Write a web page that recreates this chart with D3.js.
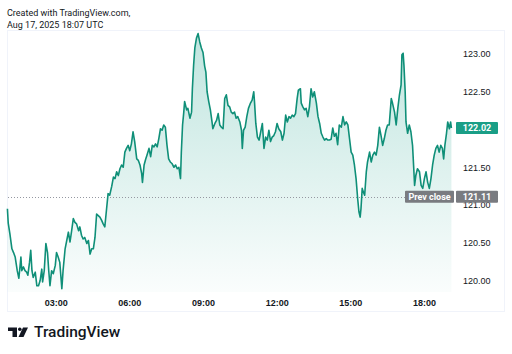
<!DOCTYPE html>
<html>
<head>
<meta charset="utf-8">
<script src="https://cdn.jsdelivr.net/npm/d3@7"></script>
<style>
  body { margin: 0; background: #fff; }
  svg { display: block; font-family: Roboto, "Liberation Sans", sans-serif; }
  .axis text { fill: #131722; }
</style>
</head>
<body>
<div class="chart"></div>
<script>
// minutes after midnight (chart time)
const minutes = [
  62,64,68,73,77,81,86,90,95,97,
  101,105,109,112,116,119,122,125,130,134,
  138,142,146,148,152,156,160,163,166,170,
  174,179,182,186,190,195,198,203,207,211,
  215,219,223,227,231,236,239,243,247,251,
  256,260,264,268,272,276,280,284,288,292,
  296,300,304,308,312,317,321,325,329,333,
  337,341,345,349,353,357,361,365,369,373,
  378,382,386,390,392,396,400,403,408,412,
  416,420,424,428,432,436,440,444,448,452,
  456,460,464,469,473,477,481,485,487,490,
  493,495,500,503,508,512,514,517,520,524,
  528,532,536,540,544,547,550,554,558,562,
  564,569,573,577,581,585,589,593,597,601,
  605,609,613,617,621,625,630,634,636,639,
  643,647,651,656,660,664,666,669,673,677,
  681,685,689,693,697,701,705,709,713,717,
  721,725,730,734,738,742,746,750,754,758,
  762,766,770,773,778,780,784,788,792,796,
  800,804,808,812,817,821,825,829,833,837,
  841,845,849,853,857,861,865,869,873,878,
  882,886,890,894,898,902,906,910,914,918,
  921,924,926,929,932,935,939,942,947,951,
  955,959,963,967,971,975,979,983,987,991,
  995,1000,1003,1008,1012,1016,1020,1024,1026,1029,
  1031,1034,1036,1040,1044,1048,1052,1055,1057,1060,
  1064,1069,1073,1077,1081,1085,1089,1093,1097,1101,
  1105,1109,1113,1117,1121,1125,1128,1131,1135,1138,
  1142,1145,1147
];
const prices = [
  120.95,120.76,120.62,120.42,120.37,120.31,120.13,120.03,120.31,120.13,
  120.18,120.13,120.11,120.07,120.24,120.40,120.13,120.04,120.11,119.93,
  119.93,120.00,120.15,119.98,120.13,120.49,120.37,120.13,119.93,120.13,
  120.09,120.20,120.37,120.31,120.24,119.89,120.13,120.42,120.53,120.64,
  120.51,120.66,120.82,120.77,120.75,120.66,120.71,120.60,120.55,120.57,
  120.49,120.53,120.35,120.42,120.42,120.57,120.88,120.86,120.84,120.80,
  120.75,120.71,120.93,121.15,121.13,121.25,121.37,121.35,121.44,121.39,
  121.48,121.53,121.50,121.70,121.75,121.79,121.72,121.81,121.97,121.84,
  121.61,121.59,121.53,121.42,121.30,121.53,121.61,121.66,121.75,121.64,
  121.79,121.77,121.81,121.77,121.88,122.01,121.99,122.06,122.03,121.79,
  121.61,121.57,121.55,121.50,121.53,121.48,121.50,121.35,121.70,122.06,
  122.23,122.37,122.26,122.28,122.15,122.23,122.54,122.85,123.08,123.21,
  123.27,123.16,123.08,123.02,122.84,122.76,122.50,122.37,122.26,122.10,
  122.01,122.08,122.12,122.21,122.06,122.03,122.01,122.41,122.46,122.32,
  122.30,122.23,122.21,122.23,122.15,122.17,122.10,121.99,121.75,121.99,
  122.03,122.17,122.28,122.35,122.39,122.50,122.35,122.08,121.90,121.86,
  121.97,122.08,121.75,121.90,121.86,121.99,121.84,121.90,121.92,121.97,
  122.08,122.01,121.97,121.86,121.95,122.19,122.10,122.17,122.15,122.19,
  122.17,122.21,122.41,122.52,122.54,122.35,122.30,122.26,122.28,122.17,
  122.30,122.54,122.43,122.50,122.35,122.17,122.08,121.95,121.90,121.86,
  121.88,121.86,121.86,121.87,122.02,121.91,121.95,121.80,122.06,122.03,
  122.17,122.06,122.10,122.06,121.88,121.70,121.66,121.53,121.35,121.08,
  120.91,120.84,120.95,121.22,121.17,121.13,121.44,121.57,121.70,121.57,
  121.66,121.70,121.66,121.79,122.03,121.92,121.79,121.88,121.99,122.06,
  122.06,122.41,122.35,122.23,122.06,122.28,122.46,122.59,122.99,123.01,
  122.85,122.50,122.10,121.95,122.06,121.97,121.79,121.48,121.26,121.39,
  121.48,121.44,121.26,121.22,121.35,121.44,121.30,121.22,121.35,121.53,
  121.66,121.75,121.79,121.70,121.79,121.75,121.61,121.79,121.95,122.10,
  122.01,122.10,122.02
];
// 122.00 is hidden behind the last-price tag in the original
const yTicks = [120, 120.5, 121, 121.5, 122.5, 123];
const xTicks = [180, 360, 540, 720, 900, 1080];
const prevClose = 121.11;
const lastPrice = prices[prices.length - 1];

const data = minutes.map((m, i) => ({m: m, p: prices[i]}));

const W = 512, H = 354;
const paneBottom = 292;

const svg = d3.select(".chart")
    .append("svg")
    .attr("width", W)
    .attr("height", H);

const x = d3.scaleLinear().domain([180, 1080]).range([55.7, 424]);
const y = d3.scaleLinear().domain([120, 123]).range([280.5, 54]);

// header
svg.append("text").attr("x", 7).attr("y", 16)
    .attr("font-size", 9).attr("fill", "#131722")
    .text("Created with TradingView.com,");
svg.append("text").attr("x", 7).attr("y", 28)
    .attr("font-size", 9).attr("fill", "#131722")
    .text("Aug 17, 2025 18:07 UTC");

// pane border
svg.append("rect")
    .attr("x", 7.5).attr("y", 30.5)
    .attr("width", 497).attr("height", 281)
    .attr("fill", "none")
    .attr("stroke", "#f0f3fa");

// gradient fill
const defs = svg.append("defs");
const grad = defs.append("linearGradient")
    .attr("id", "fillGrad")
    .attr("gradientUnits", "userSpaceOnUse")
    .attr("x1", 0).attr("x2", 0)
    .attr("y1", 30).attr("y2", paneBottom);
grad.append("stop").attr("offset", 0).attr("stop-color", "#089981").attr("stop-opacity", 0.26);
grad.append("stop").attr("offset", 1).attr("stop-color", "#089981").attr("stop-opacity", 0.02);

const area = d3.area()
    .x(d => x(d.m))
    .y0(paneBottom)
    .y1(d => y(d.p));

const line = d3.line()
    .x(d => x(d.m))
    .y(d => y(d.p));

svg.append("path")
    .datum(data)
    .attr("d", area)
    .attr("fill", "url(#fillGrad)");

// prev close dotted line
svg.append("line")
    .attr("x1", 8).attr("x2", 405)
    .attr("y1", Math.round(y(prevClose)) + 0.5)
    .attr("y2", Math.round(y(prevClose)) + 0.5)
    .attr("stroke", "#9598a1")
    .attr("stroke-width", 1)
    .attr("stroke-dasharray", "1,2");

svg.append("path")
    .datum(data)
    .attr("d", line)
    .attr("fill", "none")
    .attr("stroke", "#0f8f78")
    .attr("stroke-width", 1.6)
    .attr("stroke-linejoin", "round");

// axes
const yAxis = d3.axisRight(y)
    .tickValues(yTicks)
    .tickSize(0)
    .tickPadding(0)
    .tickFormat(d3.format(".2f"));
const yAxisDisplay = svg.append("g")
    .attr("class", "axis y-axis")
    .attr("transform", "translate(463,0)")
    .call(yAxis);
yAxisDisplay.select(".domain").remove();
yAxisDisplay.selectAll("text").attr("font-size", 9).attr("font-family", null);

const fmtTime = m => String(Math.floor(m / 60)).padStart(2, "0") + ":" + String(m % 60).padStart(2, "0");
const xAxis = d3.axisBottom(x)
    .tickValues(xTicks)
    .tickSize(0)
    .tickPadding(3)
    .tickFormat(fmtTime);
const xAxisDisplay = svg.append("g")
    .attr("class", "axis x-axis")
    .attr("transform", "translate(0,297)")
    .call(xAxis);
xAxisDisplay.select(".domain").remove();
xAxisDisplay.selectAll("text").attr("font-size", 9).attr("font-weight", "bold").attr("font-family", null);

// price labels
function tag(x0, w, value, fill, label) {
    const cy = y(value);
    svg.append("rect")
        .attr("x", x0).attr("y", cy - 6)
        .attr("width", w).attr("height", 12)
        .attr("rx", 1)
        .attr("fill", fill);
    svg.append("text")
        .attr("x", x0 + w / 2).attr("y", cy)
        .attr("dy", "0.35em")
        .attr("text-anchor", "middle")
        .attr("font-size", 9)
        .attr("font-weight", "bold")
        .attr("fill", "#fff")
        .text(label);
}
tag(456, 42, lastPrice, "#1a9e86", d3.format(".2f")(lastPrice));
tag(405, 49, prevClose, "#797b80", "Prev close");
tag(456, 42, prevClose, "#797b80", d3.format(".2f")(prevClose));

// logo
const logo = svg.append("g").attr("fill", "#131722");
logo.append("path").attr("d", "M8,327.5 H17 V337 H12.5 V331 H8 Z");
logo.append("circle").attr("cx", 19.8).attr("cy", 329.3).attr("r", 1.8);
logo.append("path").attr("d", "M23,327.5 H28 L23.5,337 H18.5 Z");
svg.append("text")
    .attr("x", 34).attr("y", 337)
    .attr("font-size", 15.5)
    .attr("font-weight", 500)
    .attr("fill", "#131722")
    .text("TradingView");
</script>
</body>
</html>
